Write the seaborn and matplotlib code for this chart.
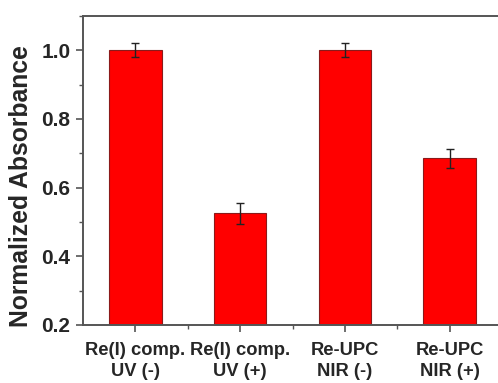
import matplotlib
matplotlib.use("Agg")
import matplotlib.pyplot as plt
from matplotlib.ticker import MultipleLocator
import seaborn as sns
import pandas as pd

categories = ["Re(I) comp.\nUV (-)", "Re(I) comp.\nUV (+)", "Re-UPC\nNIR (-)", "Re-UPC\nNIR (+)"]
values = [1.0, 0.525, 1.0, 0.685]
errors = [0.02, 0.03, 0.02, 0.028]

sns.set_style("ticks")
plt.rcParams['font.family'] = ['Liberation Sans', 'DejaVu Sans']
plt.rcParams['font.weight'] = 'bold'

df = pd.DataFrame({"sample": categories, "absorbance": values})

fig = plt.figure(figsize=(4.98, 3.83), dpi=100)
ax = fig.add_axes([83 / 498, 58 / 383, 419 / 498, 309 / 383])

sns.barplot(data=df, x="sample", y="absorbance", color="#ff0000", saturation=1,
            width=0.5, edgecolor="#8b1a1a", linewidth=0.8, ax=ax, errorbar=None)
ax.errorbar(range(len(values)), values, yerr=errors, fmt="none", ecolor="#222222",
            elinewidth=1.0, capsize=3, capthick=1.0)

ax.set_xlim(-0.5, 3.5)
ax.set_ylim(0.2, 1.1)
ax.yaxis.set_major_locator(MultipleLocator(0.2))
ax.yaxis.set_minor_locator(MultipleLocator(0.1))
ax.set_xticks(range(len(categories)))
ax.set_xticks([0.5, 1.5, 2.5], minor=True)

ax.set_xlabel("")
ax.set_ylabel("Normalized Absorbance", fontsize=17.8, fontweight="bold")
ax.yaxis.set_label_coords(-0.12, 0.45)
ax.tick_params(axis="both", which="major", direction="out", length=5, width=1.2,
               color="#555555", labelsize=15, pad=4)
ax.tick_params(axis="x", labelsize=13.2, pad=7)
ax.tick_params(axis="both", which="minor", direction="out", length=3, width=1.0, color="#555555")
for lbl in ax.get_xticklabels() + ax.get_yticklabels():
    lbl.set_fontweight("bold")
for lbl in ax.get_xticklabels():
    lbl.set_linespacing(1.35)

for side in ["left", "right", "top", "bottom"]:
    ax.spines[side].set_visible(True)
    ax.spines[side].set_color("#555555")
    ax.spines[side].set_linewidth(1.4)

fig.savefig("out.png", dpi=100)
